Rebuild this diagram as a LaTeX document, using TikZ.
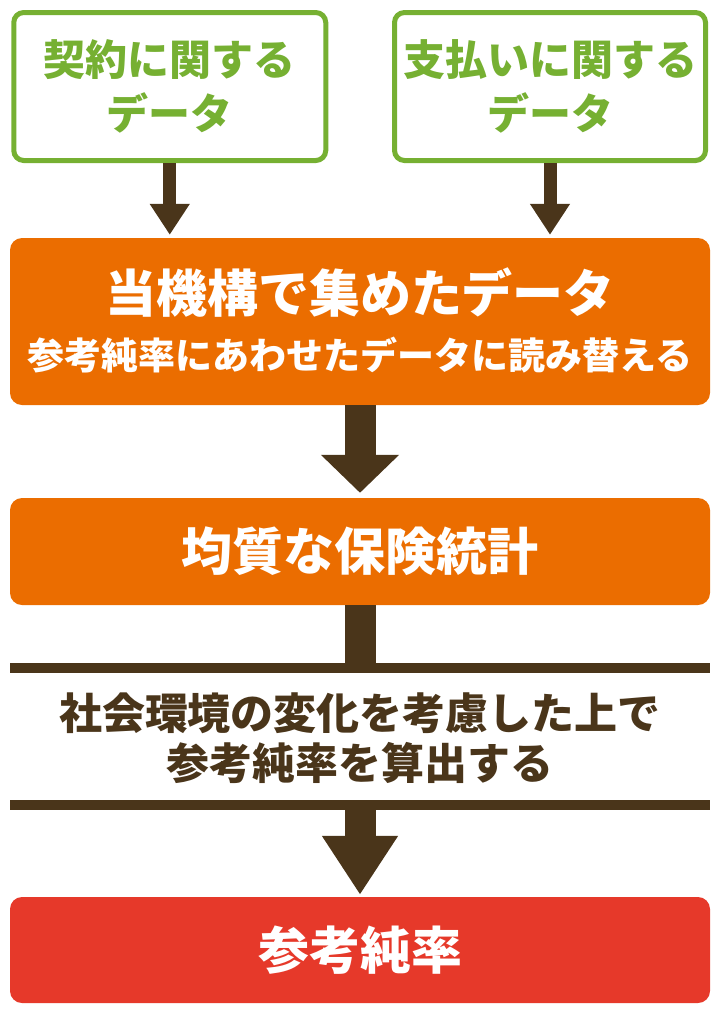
\documentclass[tikz,border=0pt]{standalone}
\usepackage{fontspec}
\setmainfont{Noto Sans CJK JP}
\usetikzlibrary{arrows.meta}
\definecolor{grn}{RGB}{118,176,50}
\definecolor{org}{RGB}{235,109,0}
\definecolor{rd}{RGB}{230,57,42}
\definecolor{brn}{RGB}{74,53,26}
\begin{document}
\begin{tikzpicture}[x=1pt,y=-1pt,
  greenbox/.style={draw=grn, line width=5pt, rounded corners=10pt, fill=white,
    minimum width=312pt, minimum height=148pt, inner sep=0pt, text=grn,
    align=center, font=\fontsize{42}{54}\selectfont\bfseries},
  filledbox/.style={rounded corners=12pt, minimum width=700pt, inner sep=0pt,
    text=white, font=\fontsize{51}{51}\selectfont\bfseries},
  whitetxt/.style={text=white, inner sep=0pt},
  midtxt/.style={text=brn, inner sep=0pt, align=center,
    font=\fontsize{43}{50}\selectfont\bfseries},
  thinarrow/.style={draw=brn, line width=13pt, -{Triangle[width=38pt,length=31pt]}},
  bigarrow/.style={draw=brn, line width=31pt, -{Triangle[width=76pt,length=38pt]}},
  lastarrow/.style={draw=brn, line width=31pt, -{Triangle[width=72pt,length=59pt]}},
  shaft/.style={draw=brn, line width=31pt},
  bar/.style={draw=brn, line width=10pt}
]
\useasboundingbox (0,0) rectangle (720,1010);
\node[greenbox] (g1) at (169.75,86.5) {契約に関する\\データ};
\node[greenbox, minimum width=311pt] (g2) at (550,86.5) {支払いに関する\\データ};
\node[filledbox, fill=org, minimum height=167pt] (o1) at (360,321.5) {};
\node[whitetxt, font=\fontsize{51}{51}\selectfont\bfseries] (o1a) at (360,293) {当機構で集めたデータ};
\node[whitetxt, font=\fontsize{37}{37}\selectfont\bfseries] (o1b) at (360,355) {参考純率にあわせたデータに読み替える};
\node[filledbox, fill=org, minimum height=107pt] (o2) at (360,551.5) {均質な保険統計};
\coordinate (b1l) at (10,668);
\coordinate (b1r) at (710,668);
\coordinate (b2l) at (10,805);
\coordinate (b2r) at (710,805);
\coordinate (b2c) at (360,805);
\node[midtxt] (mid) at (360,738) {社会環境の変化を考慮した上で\\参考純率を算出する};
\node[filledbox, fill=rd, minimum height=106pt] (r) at (360,950) {参考純率};
\draw[thinarrow, shorten >=3pt] (g1.south) -- (g1.south |- o1.north);
\draw[thinarrow, shorten >=3pt] (g2.south) -- (g2.south |- o1.north);
\draw[bigarrow, shorten >=5pt] (o1.south) -- (o2.north);
\draw[shaft] (o2.south) -- (o2.south |- b1l);
\draw[bar] (b1l) -- (b1r);
\draw[bar] (b2l) -- (b2r);
\draw[lastarrow, shorten >=2pt] (b2c) -- (r.north);
\end{tikzpicture}
\end{document}
